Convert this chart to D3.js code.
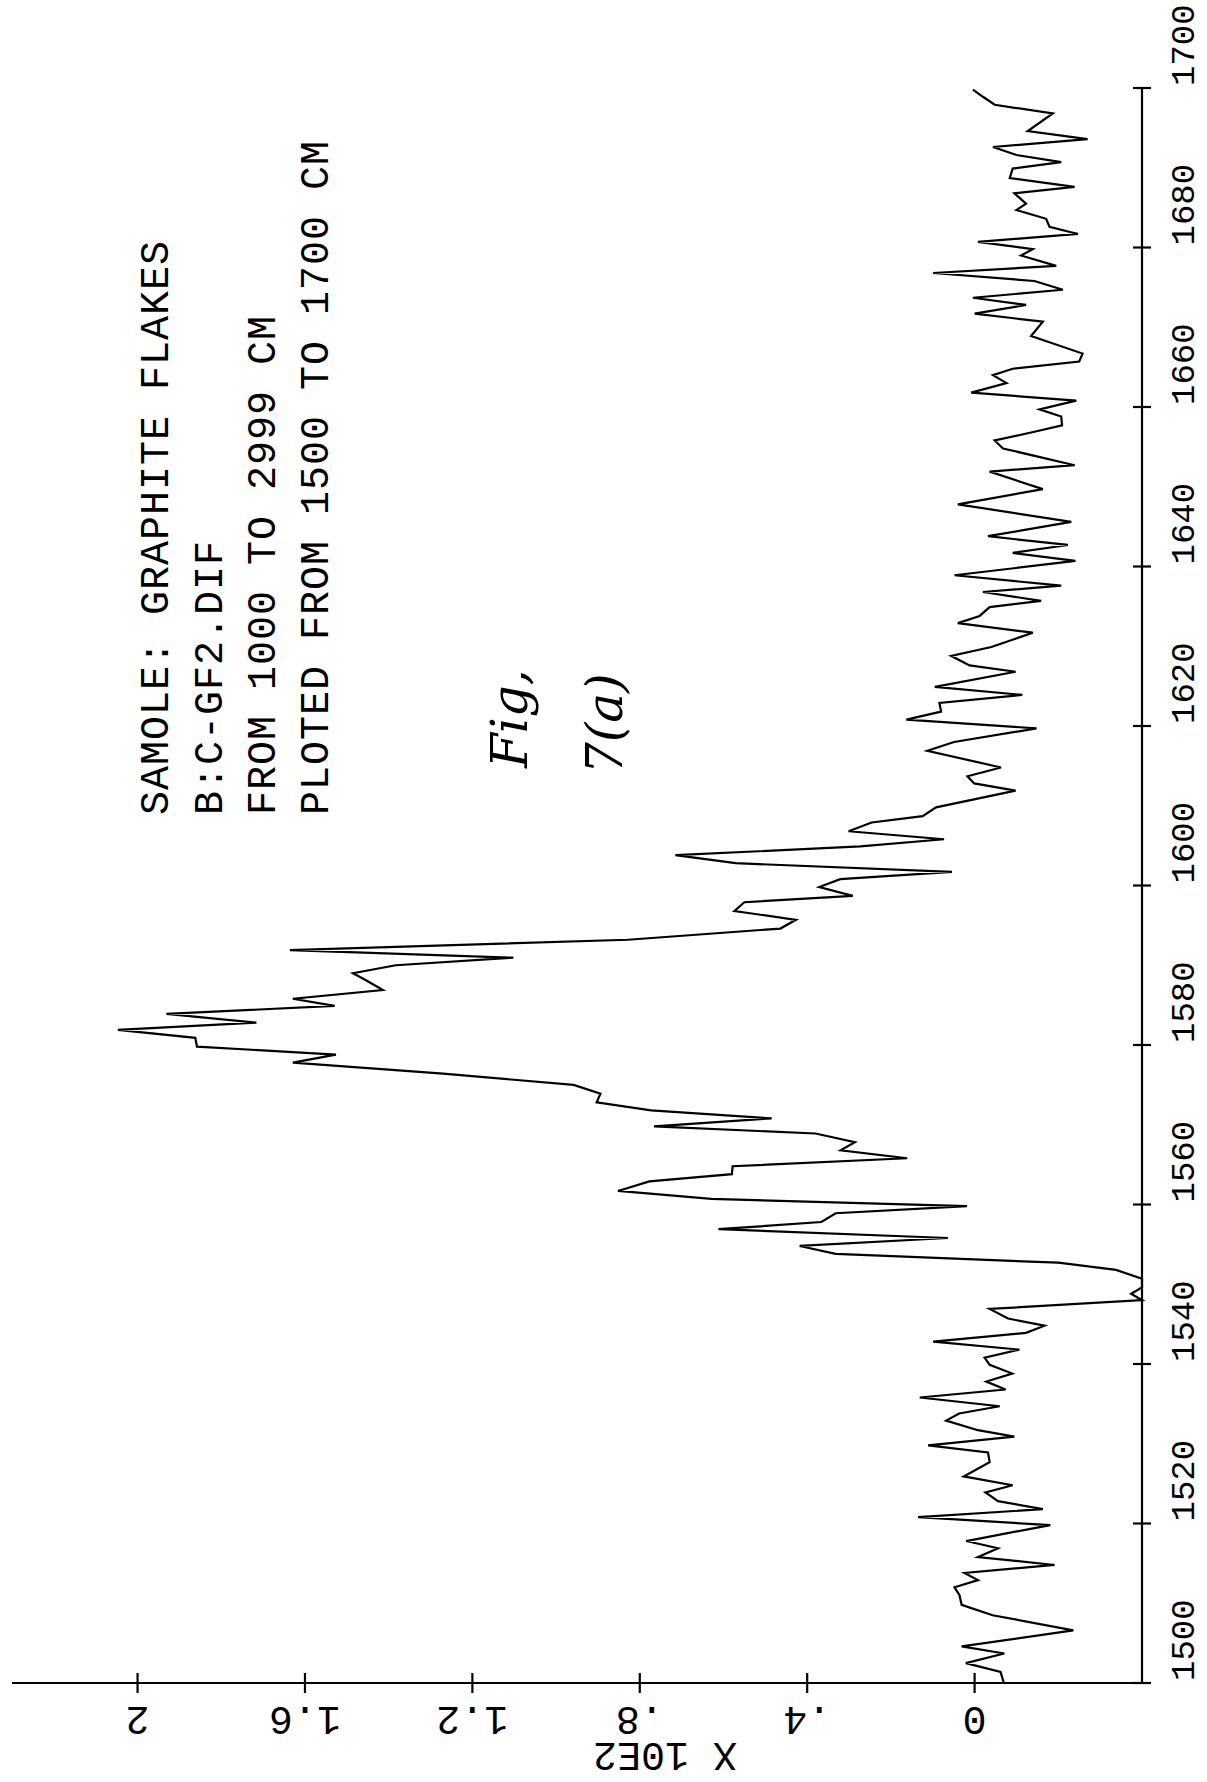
<!DOCTYPE html>
<html>
<head>
<meta charset="utf-8">
<script src="https://cdn.jsdelivr.net/npm/d3@7"></script>
<style>
  html, body { margin: 0; padding: 0; background: #fff; }
  svg { display: block; }
  .plot { font-family: "Liberation Mono", "DejaVu Sans Mono", monospace; fill: #000; }
</style>
</head>
<body>
<script>
// ---- data ----
const wavenumbers = [
  1500.0,1501.4,1502.5,1503.7,1504.6,1506.6,1508.5,1509.8,1511.0,1512.0,
  1512.9,1513.8,1514.8,1515.8,1516.9,1517.8,1519.8,1520.8,1521.8,1522.8,
  1523.9,1524.8,1525.9,1527.7,1528.9,1529.8,1530.9,1531.7,1532.9,1533.8,
  1534.7,1535.8,1536.8,1537.8,1538.8,1539.9,1540.8,1541.8,1542.8,1543.9,
  1544.8,1545.7,1546.9,1548.0,1548.8,1549.6,1550.7,1551.8,1552.7,1553.8,
  1554.8,1555.8,1556.9,1557.8,1558.9,1559.8,1560.7,1561.7,1562.9,1563.8,
  1564.8,1565.8,1566.8,1567.8,1568.9,1569.8,1570.8,1571.8,1572.8,1573.9,
  1575.0,1576.4,1577.8,1578.8,1579.8,1580.9,1581.9,1582.8,1583.9,1584.9,
  1585.8,1586.9,1588.0,1589.0,1590.0,1590.95,1591.9,1593.2,1594.6,1595.7,
  1596.8,1597.9,1598.7,1599.8,1600.8,1601.7,1602.8,1603.8,1604.9,1605.8,
  1606.8,1607.9,1608.7,1609.8,1611.9,1612.8,1613.7,1614.8,1616.9,1618.0,
  1619.7,1620.8,1621.8,1622.9,1623.9,1624.9,1626.8,1627.6,1628.8,1629.9,
  1631.7,1632.9,1633.8,1634.9,1635.7,1636.8,1637.6,1638.9,1640.7,1641.7,
  1642.7,1643.8,1645.6,1647.8,1649.7,1651.9,1652.7,1654.8,1655.8,1656.9,
  1657.7,1658.8,1659.7,1660.8,1661.8,1663.0,1664.0,1664.8,1665.7,1666.7,
  1668.9,1670.7,1671.7,1672.8,1673.7,1674.7,1675.8,1676.8,1677.7,1679.0,
  1679.8,1680.7,1681.7,1682.6,1683.6,1684.7,1685.5,1686.8,1687.6,1688.7,
  1689.9,1690.7,1691.6,1692.6,1693.6,1694.6,1696.8,1697.9,1698.9,1699.8
];
const intensities = [
  -0.070,-0.062,0.021,-0.071,0.031,-0.236,-0.043,0.031,0.036,0.048,
  -0.008,0.024,-0.191,-0.008,-0.056,0.020,-0.181,0.135,-0.163,-0.056,
  -0.026,-0.091,0.026,-0.036,-0.032,0.111,-0.095,-0.008,0.068,0.037,
  -0.060,0.131,-0.074,-0.028,-0.090,-0.036,-0.024,-0.107,0.099,-0.123,
  -0.167,-0.080,-0.036,-0.400,-0.374,-0.400,-0.400,-0.338,-0.200,0.332,
  0.418,0.064,0.612,0.366,0.332,0.018,0.629,0.852,0.777,0.580,
  0.578,0.161,0.320,0.286,0.380,0.766,0.485,0.773,0.903,0.894,
  0.958,1.270,1.629,1.526,1.858,1.862,2.047,1.716,1.931,1.529,
  1.629,1.414,1.450,1.485,1.383,1.102,1.636,0.828,0.464,0.427,
  0.574,0.550,0.291,0.371,0.321,0.054,0.571,0.715,0.273,0.073,
  0.301,0.246,0.124,0.092,-0.098,0.001,0.017,-0.063,0.113,0.049,
  -0.148,0.163,0.080,0.084,-0.114,0.095,-0.098,0.012,0.056,-0.040,
  -0.139,0.040,-0.012,-0.036,-0.159,-0.020,-0.207,0.048,-0.241,-0.091,
  -0.223,-0.032,-0.231,0.040,-0.163,-0.036,-0.239,-0.068,-0.048,-0.143,
  -0.209,-0.207,-0.155,-0.243,0.008,-0.076,-0.044,-0.091,-0.250,-0.258,
  -0.135,-0.163,0.000,-0.123,0.004,-0.211,-0.143,0.099,-0.195,-0.111,
  -0.139,-0.008,-0.247,-0.179,-0.171,-0.100,-0.123,-0.095,-0.239,-0.084,
  -0.091,-0.207,-0.100,-0.044,-0.270,-0.127,-0.187,-0.048,-0.020,0.004
];
const wnTicks = [1500,1520,1540,1560,1580,1600,1620,1640,1660,1680,1700];
const intTicks = [0,0.4,0.8,1.2,1.6,2];
const intTickLabels = ["0",".4",".8","1.2","1.6","2"];
const axisTitle = "X 10E2";
const infoLines = [
  "SAMOLE: GRAPHITE FLAKES",
  "B:C-GF2.DIF",
  "FROM 1000 TO 2999 CM",
  "PLOTED FROM 1500 TO 1700 CM"
];
const figLabel = ["Fig,", "7(a)"];

// ---- layout ----
const W = 1207, H = 1782;
const svg = d3.select("body").append("svg")
  .attr("width", W).attr("height", H).attr("class", "plot");

// wavenumber runs vertically (1500 at bottom, 1700 at top)
const yWn = d3.scaleLinear().domain([1500, 1700]).range([1683, 88]);
// intensity runs horizontally (increasing to the left)
const xInt = d3.scaleLinear().domain([-0.4, 2.3]).range([1142, 12]).clamp(true);

const axisColor = "#000";

// right (wavenumber) axis
const rightAxis = svg.append("g").attr("transform", `translate(${xInt(-0.4)},0)`);
rightAxis.append("line")
  .attr("x1", 0).attr("x2", 0)
  .attr("y1", yWn(1500)).attr("y2", yWn(1700))
  .attr("stroke", axisColor).attr("stroke-width", 2.2);
rightAxis.selectAll("line.tk").data(wnTicks).join("line").attr("class", "tk")
  .attr("x1", -9).attr("x2", 9)
  .attr("y1", d => yWn(d)).attr("y2", d => yWn(d))
  .attr("stroke", axisColor).attr("stroke-width", 2.2);
rightAxis.selectAll("text").data(wnTicks).join("text")
  .attr("transform", d => `translate(52,${yWn(d) - 2}) rotate(-90)`)
  .attr("text-anchor", "start")
  .attr("font-size", 34)
  .text(d => d);

// bottom (intensity) axis
const bottomAxis = svg.append("g").attr("transform", `translate(0,${yWn(1500)})`);
bottomAxis.append("line")
  .attr("x1", xInt(2.3)).attr("x2", xInt(-0.4))
  .attr("y1", 0).attr("y2", 0)
  .attr("stroke", axisColor).attr("stroke-width", 2.2);
bottomAxis.selectAll("line.tk").data(intTicks).join("line").attr("class", "tk")
  .attr("x1", d => xInt(d)).attr("x2", d => xInt(d))
  .attr("y1", -10).attr("y2", 10)
  .attr("stroke", axisColor).attr("stroke-width", 2.2);
bottomAxis.selectAll("text").data(intTicks).join("text")
  .attr("transform", d => `translate(${xInt(d)},24) rotate(180)`)
  .attr("text-anchor", "middle")
  .attr("font-size", 40)
  .text((d, i) => intTickLabels[i]);
bottomAxis.append("text")
  .attr("transform", `translate(${xInt(0.74)},60) rotate(180)`)
  .attr("text-anchor", "middle")
  .attr("font-size", 40)
  .text(axisTitle);

// spectrum line
const pts = wavenumbers.map((w, i) => [w, intensities[i]]);
const line = d3.line().x(d => xInt(d[1])).y(d => yWn(d[0]));
svg.append("path").datum(pts)
  .attr("d", line)
  .attr("fill", "none")
  .attr("stroke", "#000")
  .attr("stroke-width", 2.2)
  .attr("stroke-linejoin", "miter");

// info text block (rotated, reading bottom to top)
const infoX = [168, 222, 275, 328];
svg.selectAll("text.info").data(infoLines).join("text").attr("class", "info")
  .attr("transform", (d, i) => `translate(${infoX[i]},815) rotate(-90)`)
  .attr("text-anchor", "start")
  .attr("font-size", 40)
  .attr("letter-spacing", 1)
  .text(d => d);

// handwritten figure label
const figX = [527, 622];
svg.selectAll("text.fig").data(figLabel).join("text").attr("class", "fig")
  .attr("transform", (d, i) => `translate(${figX[i]},${i === 0 ? 768 : 774}) rotate(-90)`)
  .attr("text-anchor", "start")
  .attr("font-family", "'DejaVu Serif', serif")
  .attr("font-style", "italic")
  .attr("font-size", 50)
  .text(d => d);
</script>
</body>
</html>
